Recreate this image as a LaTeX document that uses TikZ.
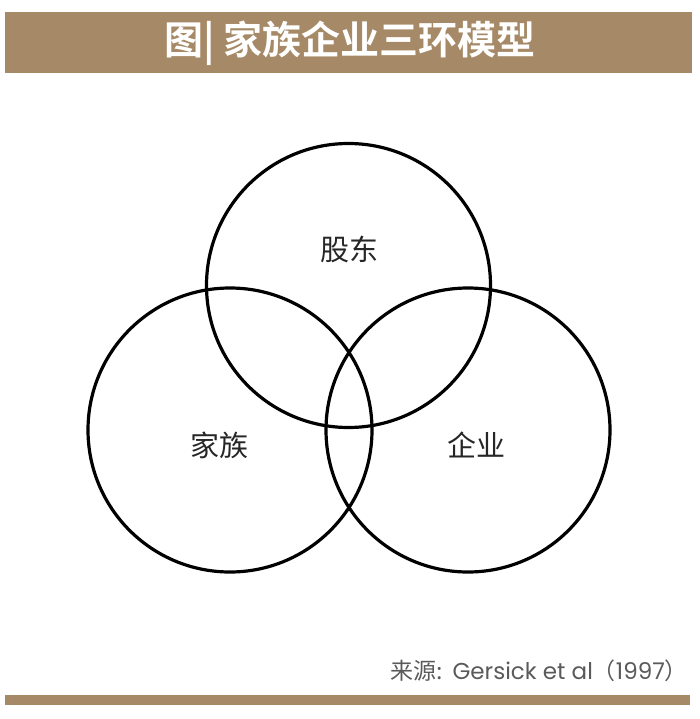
\documentclass[tikz,border=0pt]{standalone}
\usepackage{fontspec}
\usepackage{xcolor}
\newfontfamily\cjk{Noto Sans CJK SC}[BoldFont={Noto Sans CJK SC Bold}]
\newfontfamily\latin{Poppins}
\definecolor{ringBrown}{RGB}{166,138,103}
\definecolor{noteGrey}{RGB}{90,90,90}
\usetikzlibrary{positioning, backgrounds}
\tikzstyle{ring} = [draw, circle, line width=3.2pt, minimum size=284pt, inner sep=0pt]
\tikzstyle{label} = [font=\cjk\fontsize{29}{29}\selectfont, text=black!85]
\tikzstyle{bar} = [fill=ringBrown, draw=none]

\begin{document}
\begin{tikzpicture}[x=1pt, y=-1pt]
        \useasboundingbox (0,0) rectangle (700,719);
        % title bar on top
        \node [bar, minimum width=687pt, minimum height=61pt, inner sep=0pt] (titleBar) at (348.5,42.5) {};
        \node [font=\cjk\bfseries\fontsize{39}{39}\selectfont, text=white] (title) at (350,43) {图| 家族企业三环模型};
        % the three rings
        \node [ring] (owner) at (348.5,285.5) {};
        \node [ring] (family) at (230,430) {};
        \node [ring] (business) at (468,430) {};
        \node [label] (ownerText) at (349,249) {股东};
        \node [label] (familyText) at (219,445) {家族};
        \node [label] (businessText) at (476,445) {企业};
        % source and bottom rule
        \node [bar, minimum width=685pt, minimum height=10pt, inner sep=0pt] (bottomBar) at (347.5,700) {};
        \node [anchor=east, text=noteGrey, font=\fontsize{23}{23}\selectfont, inner sep=0pt] (source) at (688,671)
            {{\cjk 来源:} {\latin Gersick et al}{\cjk （}{\latin 1997}{\cjk ）}};
    \end{tikzpicture}
\end{document}
